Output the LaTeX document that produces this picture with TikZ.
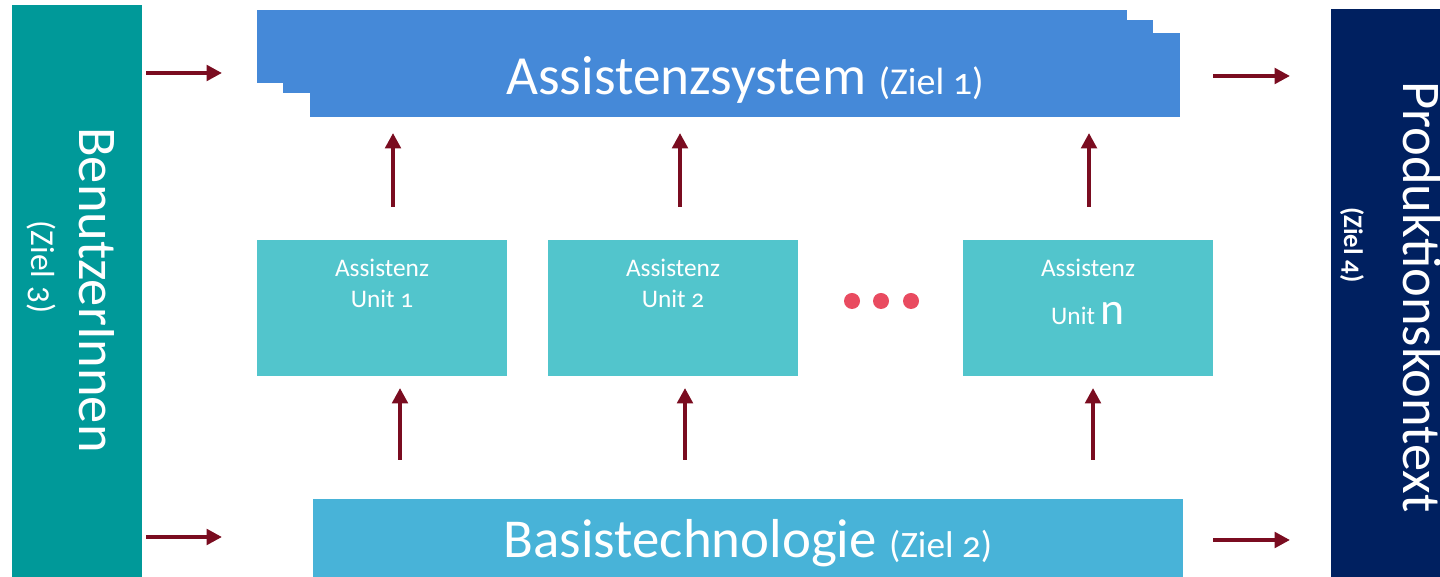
\documentclass[tikz,border=0pt]{standalone}
\usepackage{fontspec}
\setmainfont{Carlito}[Numbers=OldStyle]
\usepackage{tikz}
\usetikzlibrary{arrows.meta}
\definecolor{userteal}{RGB}{0,153,153}
\definecolor{prodnavy}{RGB}{0,32,96}
\definecolor{sysblue}{RGB}{69,137,216}
\definecolor{unitcyan}{RGB}{82,197,204}
\definecolor{basisblue}{RGB}{72,179,216}
\definecolor{arrowred}{RGB}{122,12,32}
\definecolor{dotred}{RGB}{233,75,96}
\tikzset{
  block/.style={rectangle, inner sep=0pt, text=white},
  flow/.style={arrowred, line width=1.15pt, -{Triangle[length=4.4pt,width=4.4pt]}},
  unittext/.style={text=white, align=center, inner sep=0pt, font=\fontsize{7.2}{8.8}\selectfont},
}
\begin{document}
\begin{tikzpicture}[x=0.01cm, y=-0.01cm]
\useasboundingbox (0,0) rectangle (1440,577);
\node[block, fill=userteal, minimum width=1.3cm, minimum height=5.72cm] (user) at (77,291) {};
\node[block, rotate=-90, font=\fontsize{15.5}{18}\selectfont] (usertxt) at (97,290) {BenutzerInnen};
\node[block, rotate=-90, font=\fontsize{9.5}{11}\selectfont] (userziel) at (41,267) {(Ziel 3)};
\node[block, fill=prodnavy, minimum width=1.09cm, minimum height=5.68cm] (prod) at (1385.5,293) {};
\node[block, rotate=-90, font=\fontsize{15.5}{18}\selectfont] (prodtxt) at (1422,297) {Produktionskontext};
\node[block, rotate=-90, font=\bfseries\fontsize{7.6}{9}\selectfont] (prodziel) at (1352,245) {(Ziel 4)};
\fill[sysblue] (257,10) rectangle (1127,83);
\fill[sysblue] (283,20) rectangle (1153,93);
\node[block, fill=sysblue, minimum width=8.7cm, minimum height=0.84cm] (sys) at (745,75) {};
\node[block, font=\fontsize{15.7}{18}\selectfont] (systxt) at (745,80)
  {Assistenzsystem \fontsize{10.8}{12}\selectfont(Ziel 1)};
\node[block, fill=unitcyan, minimum width=2.5cm, minimum height=1.36cm] (u1) at (382,308) {};
\node[block, fill=unitcyan, minimum width=2.5cm, minimum height=1.36cm] (u2) at (673,308) {};
\node[block, fill=unitcyan, minimum width=2.5cm, minimum height=1.36cm] (un) at (1088,308) {};
\node[unittext, anchor=north] (u1txt) at (382,258) {Assistenz\\Unit 1};
\node[unittext, anchor=north] (u2txt) at (673,258) {Assistenz\\Unit 2};
\node[unittext, anchor=north] (untxt) at (1088,258) {Assistenz\\[5pt]Unit {\fontsize{13}{14}\selectfont n}};
\fill[dotred] (852,301) circle (8) (881,301) circle (8) (911,301) circle (8);
\node[block, fill=basisblue, minimum width=8.7cm, minimum height=0.78cm] (basis) at (748,538) {};
\node[block, font=\fontsize{15.6}{19}\selectfont] (basistxt) at (748,543)
  {Basistechnologie \fontsize{10.6}{12}\selectfont(Ziel 2)};
\coordinate (inA) at (146,73);
\coordinate (inB) at (222,73);
\coordinate (inC) at (146,537);
\coordinate (inD) at (222,537);
\coordinate (outA) at (1213,76);
\coordinate (outB) at (1290,76);
\coordinate (outC) at (1213,540);
\coordinate (outD) at (1290,540);
\draw[flow] (inA) -- (inB);
\draw[flow] (inC) -- (inD);
\draw[flow] (outA) -- (outB);
\draw[flow] (outC) -- (outD);
\draw[flow] (393,207) -- (393,133);
\draw[flow] (680,207) -- (680,133);
\draw[flow] (1089,207) -- (1089,133);
\draw[flow] (400,460) -- (400,388);
\draw[flow] (685,460) -- (685,388);
\draw[flow] (1093,460) -- (1093,388);
\end{tikzpicture}
\end{document}
